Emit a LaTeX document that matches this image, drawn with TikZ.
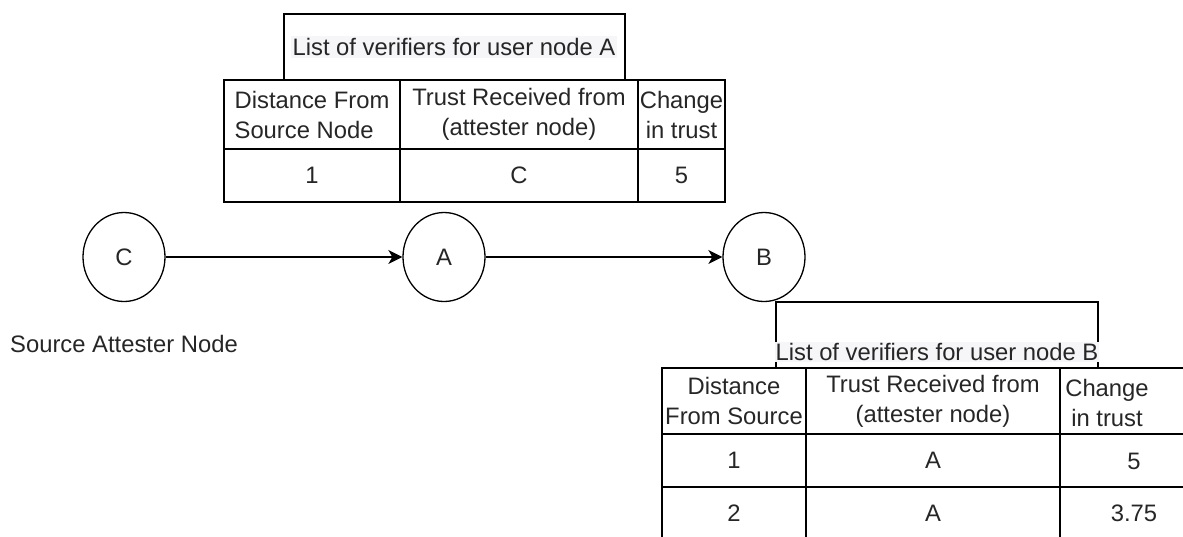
\documentclass[tikz,border=0pt]{standalone}
\usepackage{fontspec}
\setmainfont{Liberation Sans}
\usetikzlibrary{shapes.geometric,arrows.meta}
\definecolor{txtc}{RGB}{38,38,38}
\definecolor{hl}{RGB}{246,246,248}
\begin{document}
\begin{tikzpicture}[x=1pt,y=-1pt,
  cell/.style={draw, line width=1.3pt, anchor=north west, inner sep=0pt, outer sep=0pt,
    text=txtc, font=\fontsize{23.8}{30}\selectfont, align=center},
  lbl/.style={text=txtc, font=\fontsize{23.8}{30}\selectfont, inner sep=0pt, align=center},
  vertex/.style={ellipse, draw, line width=1.3pt, minimum width=82pt, minimum height=89pt,
    inner sep=0pt, text=txtc, font=\fontsize{23.8}{30}\selectfont},
  link/.style={line width=1.3pt, -{Stealth[length=14pt,width=14pt,inset=4pt]}}]
\useasboundingbox (0,0) rectangle (1183,536);
\clip (0,0) rectangle (1183,536);
% ---- table for node A
\node[cell, minimum width=341pt, minimum height=66pt] (tAbox) at (284,14) {};
\node[lbl, fill=hl, inner sep=2pt] (tAtitle) at (454,47) {List of verifiers for user node A};
\node[cell, minimum width=176pt, minimum height=69pt, align=left] (a11) at (224,80) {Distance From\\Source Node};
\node[cell, minimum width=238pt, minimum height=69pt] (a12) at (400,80) {Trust Received from\\(attester node)};
\node[cell, minimum width=87pt, minimum height=69pt] (a13) at (638,80) {Change\\in trust};
\node[cell, minimum width=176pt, minimum height=53pt] (a21) at (224,149) {1};
\node[cell, minimum width=238pt, minimum height=53pt] (a22) at (400,149) {C};
\node[cell, minimum width=87pt, minimum height=53pt] (a23) at (638,149) {5};
% ---- nodes
\node[vertex] (C) at (124,257) {C};
\node[vertex] (A) at (444,257) {A};
\node[vertex] (B) at (764,257) {B};
\draw[link] (C) -- (A);
\draw[link] (A) -- (B);
\node[lbl] (src) at (124,344) {Source Attester Node};
% ---- table for node B
\node[cell, minimum width=322pt, minimum height=66pt] (tBbox) at (776,302) {};
\node[lbl, fill=hl, inner sep=1pt] (tBtitle) at (937,352) {List of verifiers for user node B};
\draw[line width=1.3pt] (tBbox.south west) -- (tBbox.south east);
\node[cell, minimum width=144pt, minimum height=66pt] (b11) at (662,368) {Distance\\From Source};
\node[cell, minimum width=254pt, minimum height=66pt] (b12) at (806,368) {Trust Received from\\(attester node)};
\node[cell, minimum width=148pt, minimum height=66pt] (b13) at (1060,368) {};
\node[lbl] (b13t) at (1107,403) {Change\\in trust};
\node[cell, minimum width=144pt, minimum height=53pt] (b21) at (662,434) {1};
\node[cell, minimum width=254pt, minimum height=53pt] (b22) at (806,434) {A};
\node[cell, minimum width=148pt, minimum height=53pt] (b23) at (1060,434) {};
\node[lbl] (b23t) at (1134,461) {5};
\node[cell, minimum width=144pt, minimum height=53pt] (b31) at (662,487) {2};
\node[cell, minimum width=254pt, minimum height=53pt] (b32) at (806,487) {A};
\node[cell, minimum width=148pt, minimum height=53pt] (b33) at (1060,487) {};
\node[lbl] (b33t) at (1134,513) {3.75};
\end{tikzpicture}
\end{document}
